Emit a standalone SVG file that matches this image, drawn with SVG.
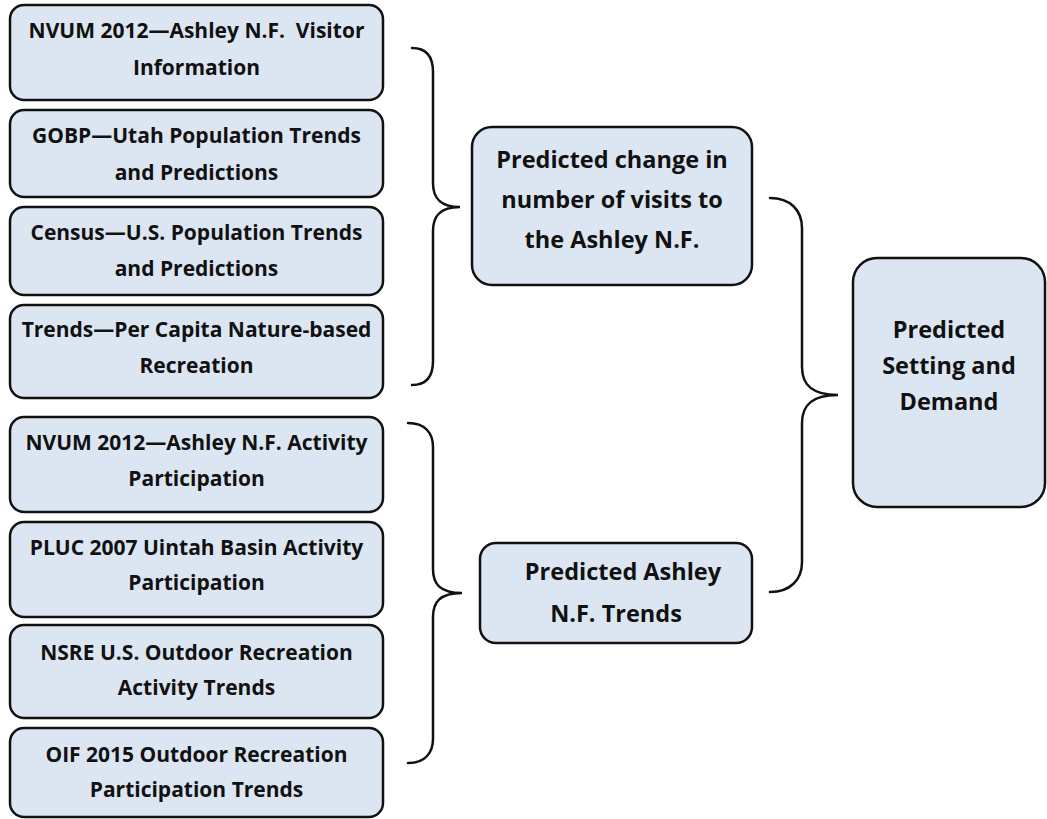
<svg xmlns="http://www.w3.org/2000/svg" width="1047" height="819" viewBox="0 0 1047 819">
<style>
.box{fill:#dce6f2;stroke:#111;stroke-width:2.5}
.t{font-family:"Open Sans","Liberation Sans",Arial,sans-serif;font-weight:bold;fill:#111;text-anchor:middle}
.s{font-size:21px}
.m{font-size:23.5px}
.br{fill:none;stroke:#111;stroke-width:2.5;stroke-linecap:round}
</style>
<rect width="1047" height="819" fill="#fff"/>
<g id="n1"><rect class="box" x="10" y="5" width="373" height="95" rx="14"/><text class="t s" x="196.5" y="38" xml:space="preserve">NVUM 2012—Ashley N.F.  Visitor</text><text class="t s" x="196.5" y="75">Information</text></g>
<g id="n2"><rect class="box" x="10" y="110" width="373" height="87" rx="14"/><text class="t s" x="196.5" y="143">GOBP—Utah Population Trends</text><text class="t s" x="196.5" y="180">and Predictions</text></g>
<g id="n3"><rect class="box" x="10" y="207" width="373" height="88" rx="14"/><text class="t s" x="196.5" y="240">Census—U.S. Population Trends</text><text class="t s" x="196.5" y="276">and Predictions</text></g>
<g id="n4"><rect class="box" x="10" y="305" width="373" height="93" rx="14"/><text class="t s" x="196.5" y="337">Trends—Per Capita Nature-based</text><text class="t s" x="196.5" y="373">Recreation</text></g>
<g id="n5"><rect class="box" x="10" y="417" width="373" height="95" rx="14"/><text class="t s" x="196.5" y="450">NVUM 2012—Ashley N.F. Activity</text><text class="t s" x="196.5" y="486">Participation</text></g>
<g id="n6"><rect class="box" x="10" y="522" width="373" height="95" rx="14"/><text class="t s" x="196.5" y="555">PLUC 2007 Uintah Basin Activity</text><text class="t s" x="196.5" y="590">Participation</text></g>
<g id="n7"><rect class="box" x="10" y="625" width="373" height="93" rx="14"/><text class="t s" x="196.5" y="660">NSRE U.S. Outdoor Recreation</text><text class="t s" x="196.5" y="695">Activity Trends</text></g>
<g id="n8"><rect class="box" x="10" y="728" width="373" height="89" rx="14"/><text class="t s" x="196.5" y="762">OIF 2015 Outdoor Recreation</text><text class="t s" x="196.5" y="797">Participation Trends</text></g>
<g id="m1"><rect class="box" x="472" y="127" width="280" height="158" rx="20"/><text class="t m" x="612" y="168">Predicted change in</text><text class="t m" x="612" y="208">number of visits to</text><text class="t m" x="612" y="248">the Ashley N.F.</text></g>
<g id="m2"><rect class="box" x="480" y="543" width="272" height="100" rx="16"/><text class="t m" x="623" y="580">Predicted Ashley</text><text class="t m" x="616" y="622">N.F. Trends</text></g>
<g id="r1"><rect class="box" x="853" y="258" width="192" height="249" rx="24"/><text class="t m" x="949" y="338">Predicted</text><text class="t m" x="949" y="374">Setting and</text><text class="t m" x="949" y="410">Demand</text></g>
<g id="connectors">
<path class="br" d="M412,48 C428,48 433,58 433,72 L433,183 C433,198 440,207 460,207 C440,207 433,216 433,231 L433,361 C433,375 428,385 412,385"/>
<path class="br" d="M408,423 C425,423 433,433 433,447 L433,569 C433,584 440,593 462,593 C440,593 433,602 433,617 L433,739 C433,753 425,763 408,763"/>
<path class="br" d="M770,198 C790,198 802,210 802,228 L802,367 C802,385 812,395 838,395 C812,395 802,405 802,423 L802,562 C802,580 790,592 770,592"/>
</g>
</svg>
